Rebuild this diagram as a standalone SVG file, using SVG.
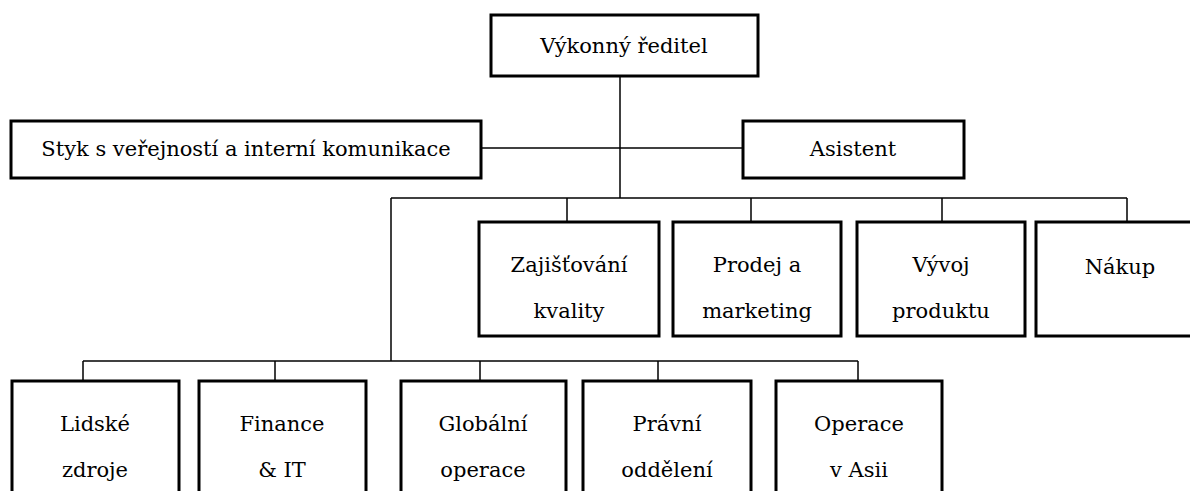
<svg xmlns="http://www.w3.org/2000/svg" width="1190" height="491" viewBox="0 0 1190 491">
  <style>
    .box { fill: #fff; stroke: #000; stroke-width: 3; }
    .conn { fill: none; stroke: #000; stroke-width: 1.5; }
    .lbl { font-size: 21px; fill: #000; text-anchor: middle; }
  </style>
  <rect width="1190" height="491" fill="#fff"/>

  <!-- reporting lines -->
  <g id="connectors">
    <path class="conn" d="M620 76 V198"/>
    <path class="conn" d="M481 148 H743"/>
    <path class="conn" d="M391 198 H1127"/>
    <path class="conn" d="M567 198 V221 M751 198 V221 M942 198 V221 M1127 198 V221"/>
    <path class="conn" d="M391 198 V361"/>
    <path class="conn" d="M83 361 H858"/>
    <path class="conn" d="M83 361 V381 M275 361 V381 M480 361 V381 M658 361 V381 M858 361 V381"/>
  </g>

  <g id="ceo">
    <rect class="box" x="491" y="15" width="267" height="61"/>
    <text class="lbl" x="624" y="53" font-family="DejaVu Serif">Výkonný ředitel</text>
  </g>
  <g id="pr">
    <rect class="box" x="11" y="121" width="470" height="57"/>
    <text class="lbl" x="246" y="156" font-family="DejaVu Serif">Styk s veřejností a interní komunikace</text>
  </g>
  <g id="assistant">
    <rect class="box" x="743" y="121" width="221" height="57"/>
    <text class="lbl" x="853" y="156" font-family="DejaVu Serif">Asistent</text>
  </g>

  <g id="quality">
    <rect class="box" x="479" y="222" width="180" height="114"/>
    <text class="lbl" x="569" y="272" font-family="DejaVu Serif">Zajišťování</text>
    <text class="lbl" x="569" y="318" font-family="DejaVu Serif">kvality</text>
  </g>
  <g id="sales">
    <rect class="box" x="673" y="222" width="168" height="114"/>
    <text class="lbl" x="757" y="272" font-family="DejaVu Serif">Prodej a</text>
    <text class="lbl" x="757" y="318" font-family="DejaVu Serif">marketing</text>
  </g>
  <g id="product">
    <rect class="box" x="857" y="222" width="168" height="114"/>
    <text class="lbl" x="941" y="272" font-family="DejaVu Serif">Vývoj</text>
    <text class="lbl" x="941" y="318" font-family="DejaVu Serif">produktu</text>
  </g>
  <g id="purchasing">
    <rect class="box" x="1036" y="222" width="170" height="114"/>
    <text class="lbl" x="1120" y="274" font-family="DejaVu Serif">Nákup</text>
  </g>

  <g id="hr">
    <rect class="box" x="12" y="381" width="167" height="120"/>
    <text class="lbl" x="95" y="431" font-family="DejaVu Serif">Lidské</text>
    <text class="lbl" x="95" y="477" font-family="DejaVu Serif">zdroje</text>
  </g>
  <g id="finance">
    <rect class="box" x="199" y="381" width="167" height="120"/>
    <text class="lbl" x="282" y="431" font-family="DejaVu Serif">Finance</text>
    <text class="lbl" x="282" y="477" font-family="DejaVu Serif">&amp; IT</text>
  </g>
  <g id="global">
    <rect class="box" x="401" y="381" width="165" height="120"/>
    <text class="lbl" x="483" y="431" font-family="DejaVu Serif">Globální</text>
    <text class="lbl" x="483" y="477" font-family="DejaVu Serif">operace</text>
  </g>
  <g id="legal">
    <rect class="box" x="583" y="381" width="168" height="120"/>
    <text class="lbl" x="667" y="431" font-family="DejaVu Serif">Právní</text>
    <text class="lbl" x="667" y="477" font-family="DejaVu Serif">oddělení</text>
  </g>
  <g id="asia">
    <rect class="box" x="776" y="381" width="166" height="120"/>
    <text class="lbl" x="859" y="431" font-family="DejaVu Serif">Operace</text>
    <text class="lbl" x="859" y="477" font-family="DejaVu Serif">v Asii</text>
  </g>
</svg>
